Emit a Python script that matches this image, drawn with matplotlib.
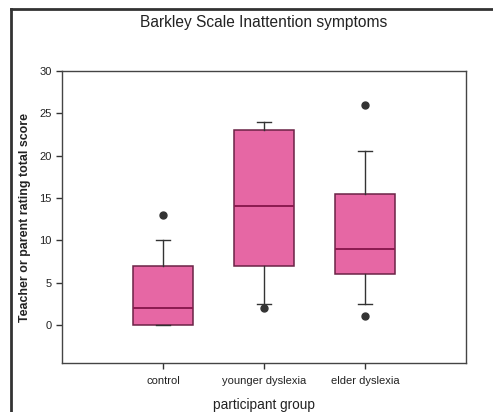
import matplotlib
matplotlib.use("Agg")
import matplotlib.pyplot as plt
from matplotlib.lines import Line2D

plt.rcParams['font.family'] = ['Liberation Sans', 'DejaVu Sans']

groups = ["control", "younger dyslexia", "elder dyslexia"]
q1 = [0, 7, 6]
medians = [2, 14, 9]
q3 = [7, 23, 15.5]
whisker_low = [0, 2.5, 2.5]
whisker_high = [10, 24, 20.5]
outliers = [[13], [2], [26, 1]]

box_fill = "#E667A4"
box_edge = "#6B2346"
median_col = "#8B1A4F"

stats = []
for i, name in enumerate(groups):
    stats.append(dict(label=name, q1=q1[i], med=medians[i], q3=q3[i],
                      whislo=whisker_low[i], whishi=whisker_high[i],
                      fliers=outliers[i]))

fig = plt.figure(figsize=(4.93, 4.12), dpi=100)
ax = fig.add_axes([0.1258, 0.1189, 0.8195, 0.7087])

ax.bxp(stats, positions=[1, 2, 3], widths=0.6, capwidths=0.14,
       patch_artist=True,
       boxprops=dict(facecolor=box_fill, edgecolor=box_edge, linewidth=1.1),
       medianprops=dict(color=median_col, linewidth=1.4),
       whiskerprops=dict(color="#333333", linewidth=1.0),
       capprops=dict(color="#333333", linewidth=1.0),
       flierprops=dict(marker="o", markerfacecolor="#333333",
                       markeredgecolor="#333333", markersize=5))

ax.set_xlim(0, 4)
ax.set_ylim(-4.5, 30)
ax.set_yticks([0, 5, 10, 15, 20, 25, 30])
ax.set_xticks([1, 2, 3])
ax.set_xticklabels(groups)
ax.tick_params(axis="both", direction="out", length=4, width=1,
               labelsize=8, colors="#333333", labelcolor="#222222")
ax.tick_params(axis="x", pad=5)
for s in ax.spines.values():
    s.set_color("#444444")
    s.set_linewidth(1.0)

ax.set_ylabel("Teacher or parent rating total score", fontsize=8.9,
              fontweight="bold", color="#222222")
ax.yaxis.set_label_coords(-0.076, 0.5)
ax.set_xlabel("participant group", fontsize=9.8, color="#222222")
ax.xaxis.set_label_coords(0.5, -0.12)

fig.text(0.535, 0.945, "Barkley Scale Inattention symptoms", ha="center",
         va="center", fontsize=11.2, color="#222222")

# frame lines along the top and left edge of the figure
fig.add_artist(Line2D([11 / 493, 1.0], [1 - 9 / 412, 1 - 9 / 412],
                      color="#333333", linewidth=2))
fig.add_artist(Line2D([11 / 493, 11 / 493], [0, 1 - 9 / 412],
                      color="#333333", linewidth=2))

fig.savefig("out.png", dpi=100)
